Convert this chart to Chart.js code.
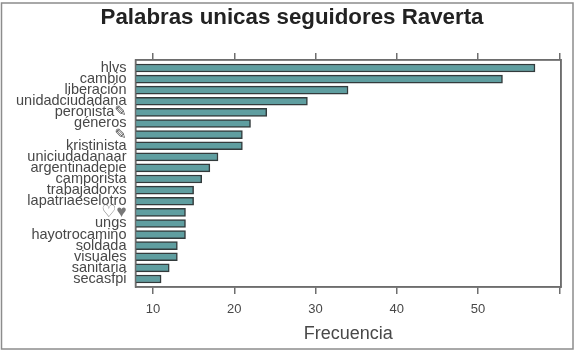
<!DOCTYPE html>
<html>
<head>
<meta charset="utf-8">
<script src="https://cdn.jsdelivr.net/npm/chart.js@4"></script>
<style>
  html, body { margin: 0; padding: 0; background: #fff; }
  canvas { display: block; filter: blur(0.6px); }
</style>
</head>
<body>
<canvas id="wordsChart" width="577" height="352"></canvas>
<script>
const words = ['hlvs', 'cambio', 'liberación', 'unidadciudadana', 'peronista✎', 'géneros', '✎', 'kristinista',
  'uniciudadanaar', 'argentinadepie', 'camporista', 'trabajadorxs', 'lapatriaeselotro', '♡♥', 'ungs',
  'hayotrocamino', 'soldada', 'visuales', 'sanitaria', 'secasfpi'];
const counts = [57, 53, 34, 29, 24, 22, 21, 21, 18, 17, 16, 15, 15, 14, 14, 14, 13, 13, 12, 11];
const freqTicks = [10, 20, 30, 40, 50, 60];
const freqLabels = ['10', '20', '30', '40', '50', ''];

const axisGray = '#6e6e6e';
const textGray = '#484848';
const fontFamily = '"Liberation Sans", "DejaVu Sans", sans-serif';

// outer picture frame and the box round the plot
const frames = {
  id: 'frames',
  afterDraw(chart) {
    const c = chart.ctx, a = chart.chartArea;
    c.save();
    c.strokeStyle = '#8c8c8c';
    c.lineWidth = 1.5;
    c.strokeRect(1.5, 3, 571.5, 346);
    c.strokeStyle = axisGray;
    c.strokeRect(a.left, a.top, a.right - a.left, a.bottom - a.top);
    c.restore();
  }
};

const setTicks = scale => { scale.ticks = freqTicks.map(v => ({ value: v })); };
const freqAxis = {
  min: 7.85,
  max: 60.2,
  border: { color: axisGray, width: 1.5 },
  grid: { drawOnChartArea: false, color: axisGray, lineWidth: 1.5, tickLength: 7 },
  afterBuildTicks: setTicks
};

new Chart(document.getElementById('wordsChart'), {
  type: 'bar',
  data: {
    datasets: [{
      data: counts.map((v, i) => ({ x: v, y: i })),
      backgroundColor: '#5f9ea0',
      borderColor: '#333b3c',
      borderWidth: 1.5,
      borderSkipped: false,
      barThickness: 8
    }]
  },
  plugins: [frames],
  options: {
    indexAxis: 'y',
    responsive: false,
    animation: false,
    layout: { padding: { left: 7 } },
    plugins: {
      legend: { display: false },
      tooltip: { enabled: false },
      title: {
        display: true,
        text: 'Palabras unicas seguidores Raverta',
        color: '#222',
        font: { family: fontFamily, size: 22.3, weight: 'bold' },
        padding: { top: 4, bottom: 0 }
      }
    },
    scales: {
      x: {
        ...freqAxis,
        position: 'bottom',
        afterFit: s => { s.height = 65; },
        ticks: {
          color: textGray,
          font: { family: fontFamily, size: 13 },
          padding: 8,
          maxRotation: 0,
          callback: v => freqLabels[freqTicks.indexOf(v)]
        },
        title: {
          display: true,
          text: 'Frecuencia',
          color: textGray,
          font: { family: fontFamily, size: 18 },
          padding: { top: 0, bottom: 7 }
        }
      },
      xTop: {
        ...freqAxis,
        position: 'top',
        afterFit: s => { s.height = 29.2; },
        ticks: { display: false }
      },
      y: {
        type: 'linear',
        offset: false,
        reverse: true,
        min: -0.72,
        max: 19.72,
        afterFit: s => { s.width = 128.5; },
        afterBuildTicks: s => { s.ticks = words.map((w, i) => ({ value: i })); },
        border: { color: axisGray, width: 1.5 },
        grid: { display: false },
        ticks: {
          autoSkip: false,
          padding: 1,
          color: ctx => (words[ctx.index] === '♡♥' ? '#777' : textGray),
          font: ctx => ({ family: fontFamily, size: words[ctx.index] === '♡♥' ? 17 : 14.5 }),
          callback: v => words[v]
        }
      },
      // empty axis on the right, keeps the margin
      yRight: {
        position: 'right',
        afterFit: s => { s.width = 16; },
        border: { color: axisGray, width: 1.5 },
        grid: { display: false },
        ticks: { display: false }
      }
    }
  }
});
</script>
</body>
</html>
